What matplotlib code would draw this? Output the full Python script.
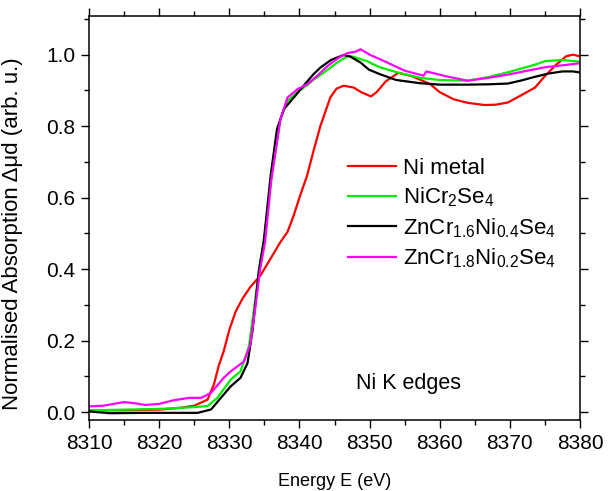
import matplotlib
matplotlib.use("Agg")
import matplotlib.pyplot as plt
from matplotlib.ticker import MultipleLocator, FormatStrFormatter

plt.rcParams["font.family"] = ["Liberation Sans", "DejaVu Sans"]
plt.rcParams["mathtext.fontset"] = "custom"
plt.rcParams["mathtext.rm"] = "Liberation Sans"
plt.rcParams["mathtext.it"] = "Liberation Sans"

# Ni metal
e_ni = [8310, 8315, 8320, 8323, 8325, 8326.9, 8327.8, 8328.5, 8329.2, 8330,
        8330.9, 8331.9, 8333, 8334.5, 8335.9, 8337.3, 8338.3, 8339.2, 8340,
        8341.1, 8342, 8343, 8344.4, 8345.3, 8346.3, 8347.7, 8348.8, 8350.2,
        8351, 8352.3, 8354.1, 8356, 8358.6, 8360, 8362, 8364, 8366.4, 8368,
        8369.7, 8371.5, 8373.6, 8375, 8376.5, 8378, 8379, 8380]
a_ni = [0.005, 0.005, 0.007, 0.012, 0.018, 0.035, 0.077, 0.13, 0.17, 0.23,
        0.281, 0.318, 0.35, 0.384, 0.43, 0.476, 0.504, 0.551, 0.60,
        0.662, 0.73, 0.801, 0.88, 0.905, 0.913, 0.908, 0.895, 0.883,
        0.895, 0.925, 0.949, 0.94, 0.918, 0.895, 0.875, 0.865, 0.859, 0.86,
        0.866, 0.885, 0.908, 0.94, 0.97, 0.995, 1.0, 0.995]

# NiCr2Se4
e_ncs = [8310, 8315, 8320, 8325, 8326.9, 8328.3, 8330.2, 8331.6, 8332.8,
         8333.6, 8334.4, 8335.1, 8336, 8337.3, 8338.3, 8339.7, 8341, 8342.1,
         8343.5, 8345.4, 8346.8, 8347.5, 8349.6, 8351.4, 8354, 8357.2, 8360,
         8364, 8366.9, 8370, 8373.6, 8375.1, 8377.5, 8380]
a_ncs = [0.005, 0.007, 0.009, 0.014, 0.017, 0.04, 0.091, 0.114, 0.184,
         0.3, 0.42, 0.5, 0.66, 0.82, 0.87, 0.895, 0.913, 0.931,
         0.95, 0.978, 0.995, 0.995, 0.982, 0.965, 0.95, 0.935, 0.929,
         0.927, 0.937, 0.952, 0.972, 0.982, 0.985, 0.98]

# ZnCr1.6Ni0.4Se4
e_x04 = [8310, 8313, 8318, 8322, 8325.5, 8326.5, 8327.4, 8328.8, 8330.2,
         8331.6, 8332.6, 8333.3, 8334.2, 8334.9, 8335.9, 8336.8, 8337.8,
         8339.2, 8340.6, 8342, 8343, 8344.5, 8346.3, 8347.2, 8348.7, 8349.9,
         8351.5, 8353.8, 8357.2, 8360, 8364, 8367, 8369.7, 8371.5, 8373.6,
         8375.5, 8377.5, 8379, 8380]
a_x04 = [0.002, -0.003, -0.002, -0.002, -0.002, 0.003, 0.0075, 0.04, 0.072,
         0.096, 0.137, 0.226, 0.393, 0.476, 0.662, 0.792, 0.848,
         0.88, 0.913, 0.945, 0.964, 0.985, 0.999, 0.995, 0.978, 0.958,
         0.945, 0.929, 0.92, 0.916, 0.916, 0.917, 0.919, 0.927, 0.938,
         0.947, 0.953, 0.953, 0.95]

# ZnCr1.8Ni0.2Se4
e_x02 = [8310, 8312, 8315, 8316.5, 8318, 8320, 8322, 8324.3, 8326, 8327.4,
         8329.2, 8330.2, 8332.1, 8333, 8333.7, 8334.4, 8335.1, 8336, 8337.3,
         8338.3, 8339.7, 8341.1, 8342.5, 8344, 8345.5, 8346.8, 8348, 8348.7,
         8350, 8352.4, 8355, 8357.7, 8358.1, 8361, 8364, 8366.9, 8370,
         8372.5, 8375.1, 8377.5, 8380]
a_x02 = [0.016, 0.018, 0.028, 0.025, 0.02, 0.023, 0.033, 0.04, 0.04, 0.054,
         0.096, 0.114, 0.142, 0.189, 0.29, 0.40, 0.476, 0.65, 0.82,
         0.88, 0.903, 0.917, 0.94, 0.968, 0.99, 1.004, 1.008, 1.015,
         1.0, 0.979, 0.955, 0.941, 0.953, 0.939, 0.927, 0.935, 0.945,
         0.955, 0.965, 0.97, 0.976]

series = [
    (e_ni, a_ni, "#ff0000", "Ni metal"),
    (e_ncs, a_ncs, "#00ee00", r"NiCr$_\mathrm{2}$Se$_\mathrm{4}$"),
    (e_x04, a_x04, "#000000",
     r"ZnCr$_\mathrm{1.6}$Ni$_\mathrm{0.4}$Se$_\mathrm{4}$"),
    (e_x02, a_x02, "#ff00ff",
     r"ZnCr$_\mathrm{1.8}$Ni$_\mathrm{0.2}$Se$_\mathrm{4}$"),
]

fig = plt.figure(figsize=(6.11, 4.91), dpi=100)
# axes box: x 89..580 px, y 16..420 px
ax = fig.add_axes([89 / 611, 71 / 491, 491 / 611, 404 / 491])

for e, a, col, lab in series:
    ax.plot(e, a, color=col, lw=1.6, label=lab)

ax.set_xlim(8310, 8380)
ax.set_ylim(-0.022, 1.108)
ax.xaxis.set_major_locator(MultipleLocator(10))
ax.xaxis.set_minor_locator(MultipleLocator(5))
ax.yaxis.set_major_locator(MultipleLocator(0.2))
ax.yaxis.set_minor_locator(MultipleLocator(0.1))
ax.yaxis.set_major_formatter(FormatStrFormatter("%.1f"))
ax.tick_params(which="both", direction="out", top=True, right=True,
               labelsize=15, width=1)
ax.tick_params(which="major", length=6, pad=4)
ax.tick_params(which="minor", length=3.5)
for s in ax.spines.values():
    s.set_linewidth(1.1)

ax.set_ylabel("Normalised Absorption \u0394\u03bcd (arb. u.)", fontsize=16)
ax.yaxis.set_label_coords(-0.135, 0.46)
ax.set_xlabel("Energy E (eV)", fontsize=13)
ax.xaxis.set_label_coords(0.5, -0.13)

ax.text(8355.5, 0.08, "Ni K edges", fontsize=15.5, ha="center",
        va="center")

ax.legend(loc="upper left", bbox_to_anchor=(0.51, 0.67), frameon=False,
          fontsize=16, handlelength=2.15, handletextpad=0.3,
          labelspacing=0.3, borderaxespad=0)

fig.savefig("out.png", dpi=100)
